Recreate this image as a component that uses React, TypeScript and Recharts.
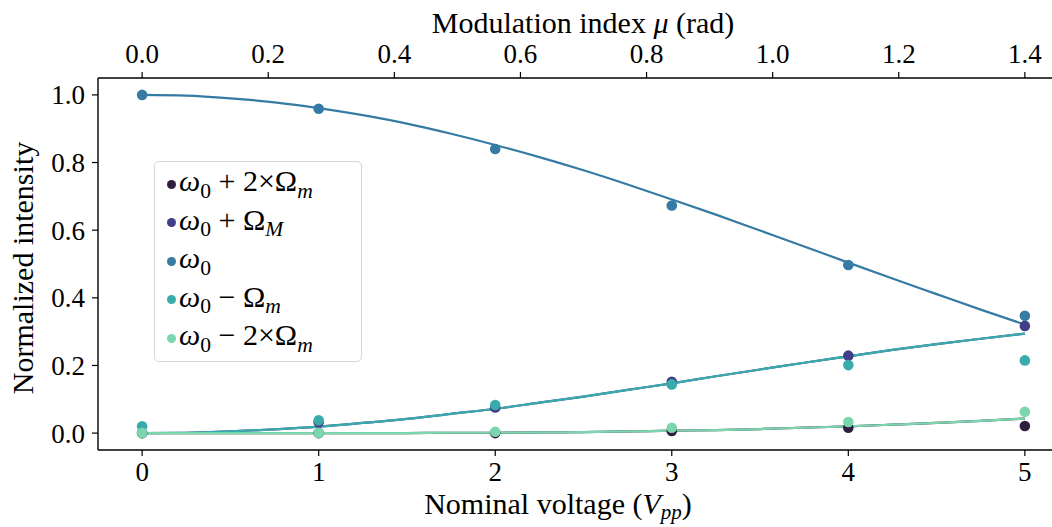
import React from 'react';
import {
  ComposedChart,
  Scatter,
  Line,
  XAxis,
  YAxis,
  Legend,
} from 'recharts';

// measured voltages (Vpp)
const voltages = [0, 1, 2, 3, 4, 5];

// normalized intensities per sideband
const plus2 = [0.0, 0.0, 0.0, 0.006, 0.016, 0.021];
const plus1 = [0.0, 0.032, 0.076, 0.152, 0.229, 0.317];
const carrier = [1.0, 0.959, 0.84, 0.673, 0.497, 0.347];
const minus1 = [0.02, 0.038, 0.083, 0.144, 0.201, 0.215];
const minus2 = [0.0, 0.0, 0.004, 0.016, 0.033, 0.063];

// fitted curves
const fitX = [
  0, 0.25, 0.5, 0.75, 1, 1.25, 1.5, 1.75, 2, 2.25, 2.5, 2.75, 3, 3.25, 3.5,
  3.75, 4, 4.25, 4.5, 4.75, 5,
];
const fitCarrier = [
  1.0, 0.998, 0.99, 0.978, 0.961, 0.94, 0.915, 0.885, 0.852, 0.816, 0.777,
  0.735, 0.691, 0.646, 0.599, 0.552, 0.504, 0.457, 0.411, 0.365, 0.321,
];
const fitFirst = [
  0.0, 0.001, 0.005, 0.011, 0.019, 0.03, 0.042, 0.057, 0.072, 0.09, 0.108,
  0.128, 0.147, 0.168, 0.188, 0.208, 0.227, 0.246, 0.263, 0.279, 0.294,
];
const fitSecond = [
  0, 0, 0, 0, 0, 0, 0, 0.001, 0.001, 0.002, 0.003, 0.005, 0.007, 0.009,
  0.012, 0.016, 0.02, 0.025, 0.03, 0.036, 0.043,
];

const xTicks = [0, 1, 2, 3, 4, 5];
const yTicks = [0, 0.2, 0.4, 0.6, 0.8, 1.0];
const muTicks = [0, 0.2, 0.4, 0.6, 0.8, 1.0, 1.2, 1.4];

const COLORS = {
  plus2: '#2e1f3e',
  plus1: '#413f88',
  carrier: '#357ba3',
  minus1: '#39abac',
  minus2: '#7bd6ae',
};

const FONT = '"Liberation Serif", serif';

const toPoints = (ys: number[]) => voltages.map((x, i) => ({ x, y: ys[i] }));
const toCurve = (ys: number[]) => fitX.map((x, i) => ({ x, y: ys[i] }));

const series = [
  { key: 'plus2', data: toPoints(plus2), fit: toCurve(fitSecond) },
  { key: 'plus1', data: toPoints(plus1), fit: toCurve(fitFirst) },
  { key: 'carrier', data: toPoints(carrier), fit: toCurve(fitCarrier) },
  { key: 'minus1', data: toPoints(minus1), fit: toCurve(fitFirst) },
  { key: 'minus2', data: toPoints(minus2), fit: toCurve(fitSecond) },
] as const;

const sub = (t: React.ReactNode) => (
  <span style={{ fontSize: '0.72em', position: 'relative', top: '0.3em' }}>{t}</span>
);

const legendLabels: Record<string, React.ReactNode> = {
  plus2: (
    <>
      <i>ω</i>{sub('0')} + 2×Ω{sub(<i>m</i>)}
    </>
  ),
  plus1: (
    <>
      <i>ω</i>{sub('0')} + Ω{sub(<i>M</i>)}
    </>
  ),
  carrier: (
    <>
      <i>ω</i>{sub('0')}
    </>
  ),
  minus1: (
    <>
      <i>ω</i>{sub('0')} − Ω{sub(<i>m</i>)}
    </>
  ),
  minus2: (
    <>
      <i>ω</i>{sub('0')} − 2×Ω{sub(<i>m</i>)}
    </>
  ),
};

const tickStyle = { fill: '#000', fontSize: 27, fontFamily: FONT };
const axisLine = { stroke: '#000', strokeWidth: 1.4 };
const tickLine = { stroke: '#000', strokeWidth: 1.2 };

function LegendBox() {
  return (
    <div
      style={{
        background: 'rgba(255,255,255,0.85)',
        border: '1px solid #d6d6d6',
        borderRadius: 5,
        padding: '3px 0 3px 12px',
        width: 208,
        boxSizing: 'border-box',
        fontFamily: FONT,
        fontSize: 30,
        color: '#000',
      }}
    >
      {series.map((s) => (
        <div
          key={s.key}
          style={{ display: 'flex', alignItems: 'center', height: 38.5, whiteSpace: 'nowrap' }}
        >
          <span
            style={{
              display: 'inline-block',
              width: 9,
              height: 9,
              borderRadius: '50%',
              background: COLORS[s.key],
              marginRight: 3,
            }}
          />
          <span style={{ lineHeight: 1, position: 'relative', top: -3 }}>{legendLabels[s.key]}</span>
        </div>
      ))}
    </div>
  );
}

const Dot = (color: string) => (props: any) =>
  <circle cx={props.cx} cy={props.cy} r={5.3} fill={color} />;

export default function App() {
  return (
    <div
      style={{
        position: 'absolute',
        left: 0,
        top: 0,
        width: 1052,
        height: 527,
        overflow: 'hidden',
        background: '#fff',
      }}
    >
      <ComposedChart
        width={1075}
        height={527}
        margin={{ top: 0, right: 6, bottom: 0, left: 0 }}
      >
        <XAxis
          dataKey="x"
          type="number"
          domain={[-0.25, 5.25]}
          ticks={xTicks}
          allowDataOverflow
          height={77}
          axisLine={axisLine}
          tickLine={tickLine}
          tickSize={6}
          tickMargin={6}
          tick={tickStyle}
          label={{
            position: 'insideBottom',
            content: () => (
              <text x={558} y={514} textAnchor="middle" fontFamily={FONT} fontSize={30} fill="#000">
                Nominal voltage (<tspan fontStyle="italic">V</tspan>
                <tspan fontStyle="italic" fontSize={21} dy={5}>pp</tspan>
                <tspan dy={-5}>)</tspan>
              </text>
            ),
          }}
        />
        <XAxis
          xAxisId="top"
          dataKey="x"
          orientation="top"
          type="number"
          domain={[-0.07, 1.47]}
          ticks={muTicks}
          allowDataOverflow
          height={78}
          axisLine={axisLine}
          tickLine={tickLine}
          tickSize={6}
          tickMargin={9}
          tick={tickStyle}
          tickFormatter={(v: number) => v.toFixed(1)}
          label={{
            position: 'insideTop',
            content: () => (
              <text x={583} y={33} textAnchor="middle" fontFamily={FONT} fontSize={30} fill="#000">
                Modulation index <tspan fontStyle="italic">μ</tspan> (rad)
              </text>
            ),
          }}
        />
        <YAxis
          type="number"
          domain={[-0.05, 1.05]}
          ticks={yTicks}
          allowDataOverflow
          width={98}
          axisLine={axisLine}
          tickLine={tickLine}
          tickSize={6}
          tickMargin={7}
          tick={tickStyle}
          tickFormatter={(v: number) => v.toFixed(1)}
          label={{
            position: 'insideLeft',
            content: () => (
              <text
                x={33}
                y={268}
                textAnchor="middle"
                fontFamily={FONT}
                fontSize={30}
                fill="#000"
                transform="rotate(-90 33 268)"
              >
                Normalized intensity
              </text>
            ),
          }}
        />
        <Legend
          layout="vertical"
          align="center"
          verticalAlign="middle"
          wrapperStyle={{ left: 154, top: 161, width: 208 }}
          content={() => <LegendBox />}
        />
        {/* invisible series so the top axis gets drawn */}
        <Line
          xAxisId="top"
          data={muTicks.map((x) => ({ x, y: null }))}
          dataKey="y"
          stroke="none"
          dot={false}
          activeDot={false}
          legendType="none"
          isAnimationActive={false}
        />
        {series.map((s) => (
          <Scatter
            key={`pts-${s.key}`}
            data={s.data}
            dataKey="y"
            fill={COLORS[s.key]}
            shape={Dot(COLORS[s.key])}
            isAnimationActive={false}
          />
        ))}
        {series.map((s) => (
          <Line
            key={`fit-${s.key}`}
            data={s.fit}
            dataKey="y"
            type="monotone"
            stroke={COLORS[s.key]}
            strokeWidth={2.2}
            dot={false}
            activeDot={false}
            isAnimationActive={false}
          />
        ))}
      </ComposedChart>
    </div>
  );
}
